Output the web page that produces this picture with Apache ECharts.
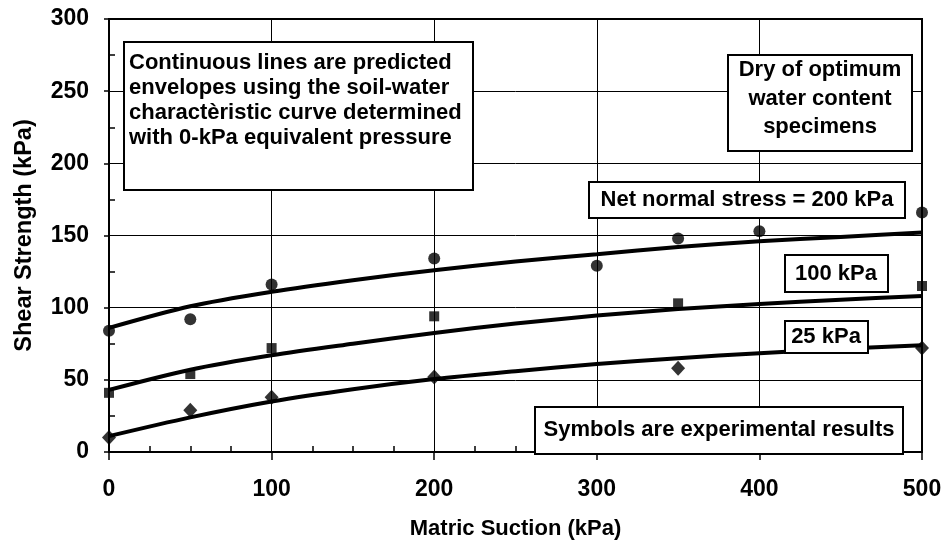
<!DOCTYPE html>
<html>
<head>
<meta charset="utf-8">
<script src="https://cdn.jsdelivr.net/npm/echarts@6/dist/echarts.min.js"></script>
<style>html,body{margin:0;padding:0;background:#fff;}#chart{width:947px;height:545px;}</style>
</head>
<body>
<div id="chart"></div>
<script>
// Experimental results (matric suction, kPa)
var suctionExp200 = [0, 50, 100, 200, 300, 350, 400, 500];
var strengthExp200 = [84, 92, 116, 134, 129, 148, 153, 166];
var suctionExp100 = [0, 50, 100, 200, 350, 500];
var strengthExp100 = [41, 54, 72, 94, 103, 115];
var suctionExp25 = [0, 50, 100, 200, 350, 500];
var strengthExp25 = [10, 29, 38, 52, 58, 72];
// Predicted envelopes
var suctionPred = [0, 50, 100, 150, 200, 250, 300, 350, 400, 450, 500];
var strengthPred200 = [86, 101, 111, 119, 126, 132, 137, 142, 146, 149, 152];
var strengthPred100 = [43, 57, 67, 75, 82.5, 89, 94.5, 99, 102.5, 105.5, 108];
var strengthPred25 = [11, 24, 35, 43.5, 50.5, 56, 61, 65, 68.5, 71.5, 74];
// Axis ticks
var xTicks = [0, 100, 200, 300, 400, 500];
var yTicks = [0, 50, 100, 150, 200, 250, 300];

function pairs(xs, ys) { return xs.map(function (x, i) { return [x, ys[i]]; }); }

var FONT = 'Liberation Sans';
var tickTxt = { fontFamily: FONT, fontSize: 23, fontWeight: 'bold', color: '#000' };
var nameTxt = { fontFamily: FONT, fontSize: 22, fontWeight: 'bold', color: '#000' };
var yNameTxt = { fontFamily: FONT, fontSize: 23.5, fontWeight: 'bold', color: '#000' };

var chart = echarts.init(document.getElementById('chart'), null, { renderer: 'canvas' });

function box(x, y, w, h, text, tx, ty, align, lh) {
  return {
    type: 'group', z: 100,
    children: [
      { type: 'rect', shape: { x: x, y: y, width: w, height: h },
        style: { fill: '#fff', stroke: '#000', lineWidth: 2 }, z: 100 },
      { type: 'text', x: tx, y: ty, z: 101,
        style: { text: text, fontFamily: FONT, fontSize: 22, fontWeight: 'bold', fill: '#000',
          align: align, verticalAlign: 'middle', lineHeight: lh || 25 } }
    ]
  };
}

var lineStyle = { color: '#000', width: 4 };

chart.setOption({
  animation: false,
  backgroundColor: '#fff',
  grid: { left: 109, right: 25, top: 19, bottom: 92, show: true, borderColor: '#000', borderWidth: 2, backgroundColor: 'transparent' },
  xAxis: [{
    type: 'value', min: xTicks[0], max: xTicks[xTicks.length - 1], interval: 100,
    name: 'Matric Suction (kPa)', nameLocation: 'middle', nameGap: 66,
    nameTextStyle: nameTxt,
    axisLine: { show: true, lineStyle: { color: '#000', width: 2 } },
    axisTick: { show: true, inside: false, length: 8, lineStyle: { color: '#000', width: 1.5 } },
    axisLabel: Object.assign({ margin: 26 }, tickTxt),
    splitLine: { show: true, lineStyle: { color: '#000', width: 1 } }
  }, {
    type: 'value', min: 0, max: 500, interval: 100, position: 'bottom',
    axisLine: { show: false }, axisLabel: { show: false }, splitLine: { show: false },
    axisTick: { show: false, inside: true },
    minorTick: { show: true, splitNumber: 4, length: 6, lineStyle: { color: '#000', width: 1.5 } }
  }],
  yAxis: [{
    type: 'value', min: yTicks[0], max: yTicks[yTicks.length - 1], interval: 50,
    name: 'Shear Strength (kPa)', nameLocation: 'middle', nameGap: 72, nameRotate: 90,
    nameTextStyle: yNameTxt,
    axisLine: { show: true, lineStyle: { color: '#000', width: 2 } },
    axisTick: { show: true, inside: false, length: 5, lineStyle: { color: '#000', width: 1.5 } },
    axisLabel: Object.assign({ margin: 20 }, tickTxt),
    splitLine: { show: true, lineStyle: { color: '#000', width: 1 } }
  }, {
    type: 'value', min: 0, max: 300, interval: 50, position: 'left',
    axisLine: { show: false }, axisLabel: { show: false }, splitLine: { show: false },
    axisTick: { show: false, inside: true },
    minorTick: { show: true, splitNumber: 2, length: 6, lineStyle: { color: '#000', width: 1.5 } }
  }],
  series: [
    { type: 'line', data: pairs(suctionPred, strengthPred200), smooth: 0.3, showSymbol: false, lineStyle: lineStyle, z: 3 },
    { type: 'line', data: pairs(suctionPred, strengthPred100), smooth: 0.3, showSymbol: false, lineStyle: lineStyle, z: 3 },
    { type: 'line', data: pairs(suctionPred, strengthPred25), smooth: 0.3, showSymbol: false, lineStyle: lineStyle, z: 3 },
    { type: 'scatter', data: pairs(suctionExp200, strengthExp200), symbol: 'circle', symbolSize: 12, itemStyle: { color: '#000' }, z: 4 },
    { type: 'scatter', data: pairs(suctionExp100, strengthExp100), symbol: 'rect', symbolSize: 10, itemStyle: { color: '#000' }, z: 4 },
    { type: 'scatter', data: pairs(suctionExp25, strengthExp25), symbol: 'diamond', symbolSize: [14, 15], itemStyle: { color: '#000' }, z: 4 }
  ],
  graphic: [
    box(124, 42, 349, 148, 'Continuous lines are predicted\nenvelopes using the soil-water\ncharactèristic curve determined\nwith 0-kPa equivalent pressure', 129, 100, 'left', 25),
    box(728, 55, 184, 96, 'Dry of optimum\nwater content\nspecimens', 820, 98.5, 'center', 28.5),
    box(589, 182, 316, 36, 'Net normal stress = 200 kPa', 747, 200, 'center'),
    box(785, 255, 103, 37, '100 kPa', 836, 273.5, 'center'),
    box(785, 321, 83, 32, '25 kPa', 826, 337, 'center'),
    box(535, 407, 368, 47, 'Symbols are experimental results', 719, 430, 'center')
  ]
});
</script>
</body>
</html>
